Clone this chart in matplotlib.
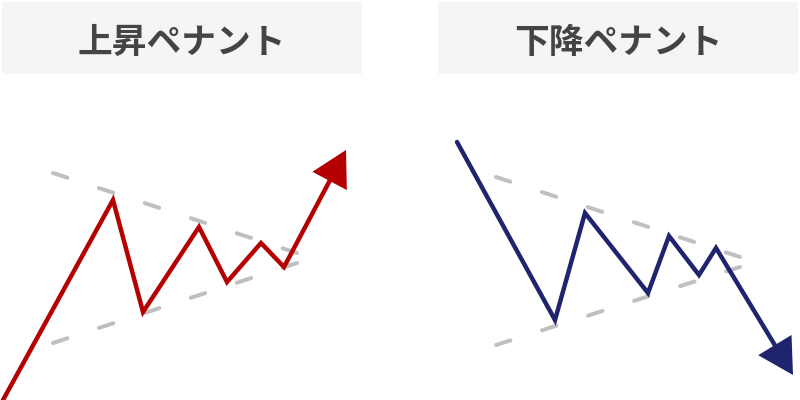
import matplotlib
matplotlib.use("Agg")
import matplotlib.pyplot as plt
import numpy as np
from matplotlib.patches import Polygon, Rectangle

plt.rcParams["font.family"] = ["Noto Sans CJK JP", "DejaVu Sans"]

# 画面座標 (px) で読み取った値
TITLES = ["上昇ペナント", "下降ペナント"]
TITLE_BOXES_X = [(2, 362), (438, 798)]
TITLE_BOX_Y = (2, 74)

UP_X = [3, 113, 143, 199, 227, 261, 284, 346]
UP_Y = [400, 200, 312, 227, 282, 243, 267, 150]
UP_UPPER_X = [53, 297]
UP_UPPER_Y = [173, 253]
UP_LOWER_X = [53, 297]
UP_LOWER_Y = [343, 263]

DOWN_X = [457, 555, 585, 648, 669, 699, 716, 793]
DOWN_Y = [142, 320, 213, 293, 236, 275, 248, 375]
DOWN_UPPER_X = [496, 740]
DOWN_UPPER_Y = [177, 257]
DOWN_LOWER_X = [496, 740]
DOWN_LOWER_Y = [345, 267]

RED = "#b40000"
NAVY = "#1f246f"
GRAY = "#c0c0c0"
BOX = "#f5f5f5"
TEXT = "#444444"

HEAD_LEN = 35
HEAD_HALF = 19.5


def draw_arrow_line(ax, xs, ys, color):
    xs = np.asarray(xs, dtype=float)
    ys = np.asarray(ys, dtype=float)
    tip = np.array([xs[-1], ys[-1]])
    prev = np.array([xs[-2], ys[-2]])
    u = (tip - prev) / np.hypot(*(tip - prev))
    perp = np.array([-u[1], u[0]])
    base = tip - HEAD_LEN * u
    end = base + 4 * u
    lx = np.append(xs[:-1], end[0])
    ly = np.append(ys[:-1], end[1])
    ax.plot(lx, ly, color=color, lw=3.2, solid_joinstyle="miter",
            solid_capstyle="round", zorder=3)
    head = Polygon([tip, base + HEAD_HALF * perp, base - HEAD_HALF * perp],
                   closed=True, facecolor=color, edgecolor="none", zorder=4)
    ax.add_patch(head)


def draw_dashed(ax, xs, ys):
    ax.plot(xs, ys, color=GRAY, lw=2.9, linestyle=(0, (3.75, 8.25)),
            dash_capstyle="round", zorder=2)


fig = plt.figure(figsize=(8, 4), dpi=100)
ax = fig.add_axes([0, 0, 1, 1])
ax.set_xlim(0, 800)
ax.set_ylim(400, 0)
ax.axis("off")

for title, (x0, x1) in zip(TITLES, TITLE_BOXES_X):
    ax.add_patch(Rectangle((x0, TITLE_BOX_Y[0]), x1 - x0,
                           TITLE_BOX_Y[1] - TITLE_BOX_Y[0],
                           facecolor=BOX, edgecolor="none", zorder=1))
    ax.text((x0 + x1) / 2, 42, title, ha="center", va="center",
            fontsize=25, fontweight="bold", color=TEXT, zorder=2)

draw_dashed(ax, UP_UPPER_X, UP_UPPER_Y)
draw_dashed(ax, UP_LOWER_X, UP_LOWER_Y)
draw_arrow_line(ax, UP_X, UP_Y, RED)

draw_dashed(ax, DOWN_UPPER_X, DOWN_UPPER_Y)
draw_dashed(ax, DOWN_LOWER_X, DOWN_LOWER_Y)
draw_arrow_line(ax, DOWN_X, DOWN_Y, NAVY)

fig.savefig("out.png", dpi=100)
